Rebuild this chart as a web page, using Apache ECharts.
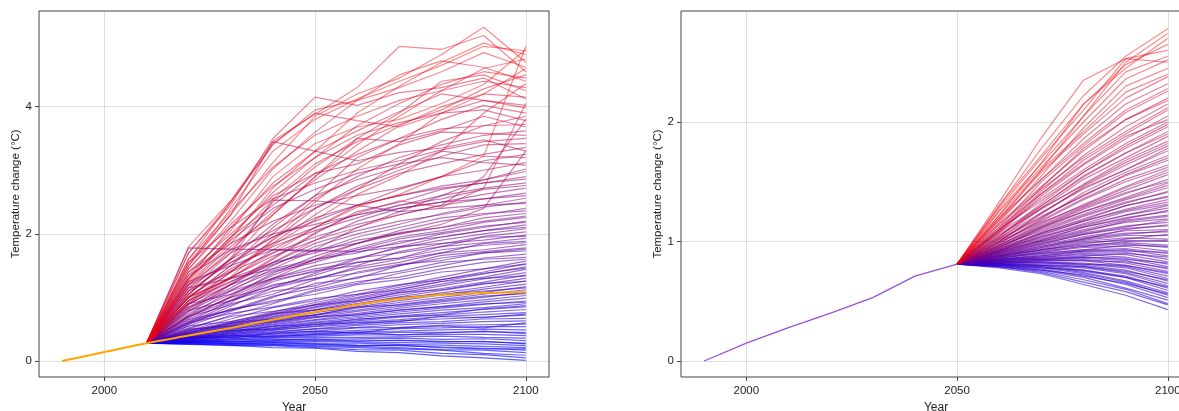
<!DOCTYPE html>
<html>
<head>
<meta charset="utf-8">
<script src="https://cdn.jsdelivr.net/npm/echarts@6/dist/echarts.min.js"></script>
<style>
  html, body { margin: 0; padding: 0; background: #fff; }
  #main { width: 1179px; height: 411px; }
</style>
</head>
<body>
<div id="main"></div>
<script>
// temperature ensemble runs, two panels
var chart = echarts.init(document.getElementById("main"));

var xTicks = [2000, 2050, 2100];
var leftYTicks = [0, 2, 4];
var rightYTicks = [0, 1, 2];

// left panel: median path (orange) and runs starting 2010
var orangeYears = [1990, 2000, 2010, 2020, 2030, 2040, 2050, 2060, 2070, 2080, 2090, 2100];
var orangeTemps = [0, 0.14, 0.28, 0.40, 0.52, 0.65, 0.77, 0.89, 0.98, 1.04, 1.07, 1.085];

var leftYears = [2010, 2020, 2030, 2040, 2050, 2060, 2070, 2080, 2090, 2100];
var leftStart = 0.28;
var leftRuns = [
    [0.26, 0.25, 0.21, 0.20, 0.15, 0.13, 0.08, 0.05, 0.01],
    [0.27, 0.24, 0.24, 0.21, 0.18, 0.17, 0.12, 0.10, 0.05],
    [0.28, 0.26, 0.25, 0.23, 0.21, 0.19, 0.17, 0.12, 0.09],
    [0.27, 0.27, 0.26, 0.24, 0.23, 0.21, 0.18, 0.17, 0.13],
    [0.29, 0.28, 0.27, 0.27, 0.25, 0.24, 0.22, 0.20, 0.17],
    [0.30, 0.27, 0.29, 0.26, 0.24, 0.25, 0.21, 0.19, 0.19],
    [0.30, 0.29, 0.30, 0.28, 0.28, 0.26, 0.25, 0.23, 0.21],
    [0.29, 0.31, 0.30, 0.31, 0.30, 0.29, 0.28, 0.27, 0.24],
    [0.33, 0.30, 0.32, 0.35, 0.31, 0.33, 0.30, 0.31, 0.27],
    [0.31, 0.31, 0.33, 0.32, 0.33, 0.32, 0.31, 0.30, 0.28],
    [0.30, 0.33, 0.34, 0.34, 0.35, 0.36, 0.34, 0.35, 0.32],
    [0.32, 0.33, 0.36, 0.37, 0.37, 0.38, 0.39, 0.37, 0.36],
    [0.31, 0.35, 0.37, 0.39, 0.41, 0.41, 0.42, 0.42, 0.40],
    [0.35, 0.40, 0.38, 0.42, 0.45, 0.41, 0.44, 0.47, 0.43],
    [0.33, 0.34, 0.39, 0.41, 0.43, 0.45, 0.45, 0.46, 0.45],
    [0.32, 0.37, 0.40, 0.43, 0.46, 0.47, 0.49, 0.50, 0.49],
    [0.34, 0.37, 0.42, 0.45, 0.48, 0.51, 0.52, 0.54, 0.54],
    [0.33, 0.39, 0.43, 0.47, 0.52, 0.53, 0.56, 0.57, 0.58],
    [0.38, 0.36, 0.44, 0.47, 0.44, 0.52, 0.55, 0.52, 0.60],
    [0.35, 0.39, 0.45, 0.50, 0.53, 0.57, 0.59, 0.62, 0.63],
    [0.34, 0.41, 0.46, 0.51, 0.56, 0.60, 0.62, 0.66, 0.67],
    [0.36, 0.41, 0.48, 0.54, 0.58, 0.63, 0.66, 0.69, 0.72],
    [0.42, 0.48, 0.50, 0.58, 0.60, 0.62, 0.70, 0.68, 0.74],
    [0.35, 0.43, 0.49, 0.55, 0.61, 0.65, 0.70, 0.73, 0.76],
    [0.37, 0.43, 0.51, 0.57, 0.63, 0.69, 0.72, 0.77, 0.81],
    [0.36, 0.45, 0.52, 0.60, 0.65, 0.71, 0.76, 0.81, 0.85],
    [0.36, 0.44, 0.55, 0.57, 0.66, 0.70, 0.73, 0.82, 0.87],
    [0.38, 0.46, 0.54, 0.61, 0.68, 0.74, 0.80, 0.84, 0.90],
    [0.50, 0.55, 0.62, 0.70, 0.72, 0.80, 0.85, 0.90, 0.92],
    [0.37, 0.47, 0.55, 0.64, 0.70, 0.77, 0.83, 0.89, 0.94],
    [0.40, 0.47, 0.57, 0.65, 0.73, 0.80, 0.86, 0.93, 0.99],
    [0.38, 0.50, 0.58, 0.68, 0.75, 0.83, 0.90, 0.96, 1.03],
    [0.45, 0.60, 0.66, 0.72, 0.85, 0.88, 0.95, 1.02, 1.06],
    [0.41, 0.49, 0.60, 0.69, 0.78, 0.86, 0.93, 1.00, 1.08],
    [0.39, 0.52, 0.61, 0.72, 0.80, 0.89, 0.97, 1.05, 1.12],
    [0.55, 0.62, 0.75, 0.80, 0.90, 1.00, 1.05, 1.10, 1.15],
    [0.42, 0.51, 0.63, 0.73, 0.83, 0.92, 1.00, 1.08, 1.17],
    [0.40, 0.54, 0.64, 0.76, 0.85, 0.95, 1.04, 1.13, 1.21],
    [0.52, 0.70, 0.78, 0.88, 0.95, 1.08, 1.12, 1.22, 1.25],
    [0.43, 0.53, 0.66, 0.77, 0.88, 0.98, 1.07, 1.16, 1.26],
    [0.41, 0.56, 0.67, 0.80, 0.90, 1.01, 1.11, 1.21, 1.30],
    [0.60, 0.75, 0.85, 0.98, 1.05, 1.12, 1.25, 1.30, 1.34],
    [0.45, 0.55, 0.69, 0.81, 0.93, 1.04, 1.14, 1.24, 1.35],
    [0.43, 0.58, 0.70, 0.84, 0.95, 1.07, 1.18, 1.29, 1.39],
    [0.46, 0.57, 0.72, 0.85, 0.98, 1.10, 1.21, 1.32, 1.44],
    [0.48, 0.66, 0.84, 0.95, 1.10, 1.20, 1.28, 1.38, 1.46],
    [0.44, 0.60, 0.73, 0.88, 1.00, 1.13, 1.25, 1.37, 1.48],
    [0.65, 0.80, 0.95, 1.05, 1.20, 1.28, 1.40, 1.45, 1.52],
    [0.48, 0.59, 0.75, 0.89, 1.03, 1.16, 1.28, 1.40, 1.53],
    [0.47, 0.62, 0.77, 0.92, 1.05, 1.19, 1.32, 1.45, 1.57],
    [0.58, 0.82, 0.92, 1.12, 1.25, 1.32, 1.45, 1.55, 1.60],
    [0.62, 0.80, 1.02, 1.15, 1.32, 1.41, 1.55, 1.60, 1.63],
    [0.50, 0.72, 0.90, 1.10, 1.22, 1.38, 1.50, 1.62, 1.68],
    [0.70, 0.88, 1.10, 1.18, 1.40, 1.52, 1.58, 1.70, 1.73],
    [0.70, 0.95, 1.15, 1.30, 1.38, 1.50, 1.62, 1.70, 1.76],
    [0.55, 0.78, 1.00, 1.22, 1.30, 1.50, 1.66, 1.72, 1.78],
    [0.80, 0.95, 1.20, 1.30, 1.45, 1.55, 1.70, 1.75, 1.83],
    [0.90, 1.05, 1.30, 1.45, 1.55, 1.62, 1.75, 1.82, 1.86],
    [0.60, 0.90, 1.05, 1.28, 1.48, 1.60, 1.70, 1.85, 1.88],
    [0.72, 1.00, 1.18, 1.35, 1.55, 1.62, 1.80, 1.86, 1.93],
    [0.62, 0.95, 1.28, 1.40, 1.62, 1.70, 1.80, 1.95, 1.96],
    [1.78, 1.76, 1.75, 1.74, 1.72, 1.80, 1.85, 1.90, 1.98],
    [0.66, 0.92, 1.25, 1.42, 1.50, 1.72, 1.84, 1.96, 2.03],
    [0.85, 1.10, 1.30, 1.50, 1.62, 1.78, 1.90, 2.00, 2.08],
    [1.15, 1.30, 1.45, 1.60, 1.70, 1.88, 1.95, 2.05, 2.10],
    [0.58, 0.86, 1.15, 1.38, 1.60, 1.80, 1.95, 2.05, 2.14],
    [0.78, 1.12, 1.40, 1.55, 1.75, 1.92, 2.02, 2.12, 2.18],
    [0.90, 1.20, 1.42, 1.58, 1.75, 1.85, 2.00, 2.10, 2.20],
    [0.75, 1.05, 1.35, 1.60, 1.78, 1.95, 2.05, 2.18, 2.26],
    [0.95, 1.25, 1.52, 1.75, 1.85, 2.02, 2.10, 2.20, 2.28],
    [1.00, 1.30, 1.55, 1.70, 1.90, 2.00, 2.10, 2.25, 2.32],
    [1.25, 1.50, 1.75, 1.72, 1.95, 2.10, 2.25, 2.32, 2.36],
    [0.68, 1.02, 1.38, 1.65, 1.85, 2.05, 2.20, 2.30, 2.40],
    [1.05, 1.62, 2.53, 2.52, 2.45, 2.35, 2.40, 2.45, 2.48],
    [0.85, 1.20, 1.55, 1.85, 2.05, 2.20, 2.30, 2.42, 2.50],
    [0.82, 1.15, 1.50, 1.80, 2.00, 2.15, 2.32, 2.45, 2.56],
    [1.35, 1.75, 2.00, 2.15, 2.30, 2.40, 2.50, 2.55, 2.60],
    [1.10, 1.40, 1.70, 1.95, 2.15, 2.30, 2.45, 2.55, 2.64],
    [0.95, 1.32, 1.65, 1.90, 2.20, 2.40, 2.50, 2.62, 2.72],
    [1.00, 1.45, 1.80, 2.05, 2.25, 2.45, 2.55, 2.70, 2.76],
    [1.20, 1.55, 1.85, 2.10, 2.30, 2.45, 2.60, 2.72, 2.80],
    [1.10, 1.55, 1.95, 2.20, 2.45, 2.60, 2.72, 2.80, 2.86],
    [0.78, 1.20, 1.60, 2.00, 2.35, 2.50, 2.70, 2.80, 2.90],
    [1.15, 1.60, 1.95, 2.25, 2.45, 2.60, 2.75, 2.85, 2.98],
    [0.72, 1.10, 1.45, 1.75, 2.10, 2.35, 2.60, 2.85, 3.02],
    [1.30, 1.90, 2.40, 2.70, 2.95, 3.10, 3.20, 3.12, 3.08],
    [1.40, 1.85, 2.20, 2.45, 2.60, 2.72, 2.90, 3.00, 3.12],
    [1.05, 1.60, 2.15, 2.60, 2.85, 3.05, 3.30, 3.22, 3.20],
    [0.88, 1.30, 1.75, 2.10, 2.45, 2.70, 2.90, 3.15, 3.25],
    [1.50, 2.30, 3.45, 3.30, 3.15, 3.28, 3.35, 3.48, 3.30],
    [0.70, 1.00, 1.30, 1.60, 1.85, 2.00, 2.15, 2.40, 3.30],
    [1.20, 1.70, 2.05, 2.40, 2.70, 2.95, 3.10, 3.25, 3.36],
    [0.90, 1.40, 1.90, 2.40, 2.75, 3.00, 3.22, 3.40, 3.42],
    [1.55, 2.10, 2.55, 2.80, 3.00, 3.15, 3.32, 3.45, 3.50],
    [1.40, 2.00, 2.60, 2.95, 3.10, 3.40, 3.60, 3.58, 3.55],
    [1.00, 1.50, 2.00, 2.55, 2.90, 3.20, 3.40, 3.55, 3.62],
    [1.20, 1.80, 2.30, 2.90, 3.50, 3.45, 3.62, 3.85, 3.68],
    [1.30, 1.95, 2.45, 2.95, 3.25, 3.50, 3.65, 3.70, 3.72],
    [1.60, 2.50, 3.42, 3.90, 3.78, 3.68, 3.90, 3.95, 3.78],
    [0.90, 1.25, 1.55, 1.90, 2.10, 2.30, 2.45, 2.90, 3.80],
    [0.95, 1.40, 1.85, 2.30, 2.70, 3.10, 3.45, 3.70, 3.85],
    [1.00, 1.50, 2.10, 2.60, 3.20, 3.50, 3.80, 4.02, 3.90],
    [1.45, 2.15, 2.75, 3.20, 3.55, 3.75, 3.90, 4.10, 3.98],
    [1.30, 2.10, 2.80, 3.30, 3.62, 3.92, 4.20, 4.10, 4.02],
    [0.82, 1.22, 1.62, 2.02, 2.32, 2.52, 2.42, 2.72, 4.05],
    [1.70, 2.45, 3.50, 4.15, 4.02, 4.22, 4.30, 4.45, 4.12],
    [1.15, 1.75, 2.35, 2.85, 3.30, 3.70, 4.00, 4.20, 4.15],
    [1.10, 1.70, 2.50, 3.05, 3.50, 3.90, 4.40, 4.50, 4.25],
    [1.60, 2.35, 3.05, 3.55, 3.85, 4.10, 4.25, 4.40, 4.30],
    [1.02, 1.42, 1.82, 2.22, 2.62, 2.92, 3.30, 3.90, 4.36],
    [1.45, 2.20, 3.02, 3.60, 4.10, 4.50, 4.72, 4.62, 4.40],
    [1.28, 1.95, 2.65, 3.20, 3.70, 4.05, 4.35, 4.55, 4.45],
    [1.22, 1.85, 2.55, 3.10, 3.45, 3.72, 3.95, 4.28, 4.50],
    [1.80, 2.52, 3.46, 3.88, 4.30, 4.95, 4.90, 5.12, 4.55],
    [0.92, 1.32, 1.92, 2.50, 3.02, 3.42, 3.90, 4.20, 4.60],
    [1.70, 2.50, 3.40, 3.95, 4.10, 4.30, 4.55, 4.85, 4.62],
    [1.55, 2.30, 3.12, 3.85, 4.20, 4.45, 4.82, 5.25, 4.70],
    [1.05, 1.60, 2.30, 2.90, 3.40, 3.85, 4.25, 4.60, 4.75],
    [1.25, 1.92, 2.72, 3.30, 3.90, 4.32, 4.70, 5.00, 4.82],
    [1.50, 2.40, 3.30, 3.80, 4.12, 4.40, 4.65, 4.95, 4.88],
    [1.35, 2.05, 2.90, 3.42, 3.68, 3.80, 4.05, 4.35, 4.90],
    [1.00, 1.30, 1.70, 2.10, 2.42, 2.62, 2.90, 3.22, 4.95]
];

// right panel: one history to 2050, runs after
var rightHistYears = [1990, 2000, 2010, 2020, 2030, 2040, 2050];
var rightHistTemps = [0, 0.15, 0.28, 0.40, 0.53, 0.71, 0.81];

var rightYears = [2050, 2060, 2070, 2080, 2090, 2100];
var rightStart = 0.81;
var rightRuns = [
    [0.78, 0.73, 0.64, 0.55, 0.43],
    [0.79, 0.74, 0.66, 0.58, 0.47],
    [0.79, 0.75, 0.68, 0.60, 0.48],
    [0.79, 0.76, 0.70, 0.61, 0.51],
    [0.80, 0.76, 0.72, 0.64, 0.53],
    [0.80, 0.78, 0.73, 0.66, 0.55],
    [0.80, 0.77, 0.71, 0.65, 0.56],
    [0.80, 0.79, 0.74, 0.67, 0.57],
    [0.81, 0.78, 0.76, 0.70, 0.59],
    [0.81, 0.80, 0.76, 0.71, 0.61],
    [0.81, 0.79, 0.75, 0.70, 0.62],
    [0.81, 0.80, 0.78, 0.73, 0.63],
    [0.82, 0.81, 0.79, 0.74, 0.65],
    [0.82, 0.82, 0.80, 0.76, 0.67],
    [0.82, 0.80, 0.79, 0.75, 0.68],
    [0.82, 0.83, 0.81, 0.78, 0.69],
    [0.83, 0.83, 0.82, 0.79, 0.71],
    [0.83, 0.84, 0.84, 0.80, 0.73],
    [0.83, 0.82, 0.81, 0.80, 0.74],
    [0.83, 0.85, 0.85, 0.82, 0.75],
    [0.84, 0.85, 0.86, 0.84, 0.77],
    [0.82, 0.84, 0.84, 0.83, 0.78],
    [0.84, 0.86, 0.87, 0.86, 0.79],
    [0.84, 0.87, 0.89, 0.87, 0.81],
    [0.84, 0.85, 0.87, 0.85, 0.82],
    [0.85, 0.87, 0.90, 0.89, 0.83],
    [0.85, 0.88, 0.91, 0.91, 0.85],
    [0.85, 0.86, 0.88, 0.90, 0.87],
    [0.85, 0.89, 0.92, 0.93, 0.88],
    [0.86, 0.90, 0.93, 0.94, 0.90],
    [0.85, 0.88, 0.92, 0.92, 0.91],
    [0.86, 0.91, 0.95, 0.96, 0.92],
    [0.86, 0.92, 0.96, 0.98, 0.95],
    [0.86, 0.90, 0.93, 0.97, 0.96],
    [0.87, 0.93, 0.97, 0.99, 0.97],
    [0.87, 0.93, 0.99, 1.01, 1.00],
    [0.87, 0.91, 0.96, 1.00, 1.01],
    [0.88, 0.94, 1.00, 1.03, 1.02],
    [0.88, 0.95, 1.01, 1.05, 1.05],
    [0.88, 0.93, 0.98, 1.02, 1.06],
    [0.88, 0.96, 1.03, 1.07, 1.08],
    [0.87, 0.95, 1.02, 1.06, 1.09],
    [0.89, 0.97, 1.04, 1.09, 1.10],
    [0.89, 0.98, 1.06, 1.11, 1.13],
    [0.89, 0.96, 1.02, 1.10, 1.14],
    [0.90, 0.99, 1.07, 1.13, 1.16],
    [0.90, 0.98, 1.06, 1.12, 1.18],
    [0.90, 1.00, 1.09, 1.16, 1.19],
    [0.91, 1.00, 1.08, 1.17, 1.21],
    [0.91, 1.01, 1.10, 1.18, 1.22],
    [0.91, 1.02, 1.12, 1.20, 1.25],
    [0.92, 1.01, 1.12, 1.19, 1.26],
    [0.92, 1.03, 1.14, 1.22, 1.28],
    [0.93, 1.04, 1.13, 1.22, 1.30],
    [0.92, 1.04, 1.15, 1.25, 1.31],
    [0.92, 1.05, 1.17, 1.26, 1.33],
    [0.93, 1.06, 1.17, 1.27, 1.35],
    [0.94, 1.07, 1.18, 1.30, 1.37],
    [0.93, 1.07, 1.19, 1.30, 1.38],
    [0.96, 1.09, 1.22, 1.33, 1.41],
    [0.94, 1.08, 1.21, 1.32, 1.42],
    [0.95, 1.10, 1.23, 1.35, 1.45],
    [0.95, 1.12, 1.25, 1.36, 1.47],
    [0.95, 1.11, 1.25, 1.37, 1.49],
    [0.97, 1.13, 1.28, 1.41, 1.50],
    [0.96, 1.12, 1.27, 1.40, 1.52],
    [0.97, 1.14, 1.29, 1.43, 1.56],
    [0.99, 1.16, 1.30, 1.45, 1.58],
    [0.97, 1.15, 1.31, 1.46, 1.60],
    [1.00, 1.17, 1.35, 1.50, 1.62],
    [0.99, 1.18, 1.36, 1.52, 1.64],
    [1.01, 1.20, 1.39, 1.55, 1.68],
    [1.02, 1.21, 1.38, 1.56, 1.70],
    [0.98, 1.19, 1.41, 1.58, 1.72],
    [1.03, 1.24, 1.44, 1.60, 1.76],
    [1.00, 1.24, 1.45, 1.60, 1.78],
    [1.00, 1.23, 1.46, 1.64, 1.80],
    [1.06, 1.28, 1.47, 1.66, 1.82],
    [1.05, 1.27, 1.48, 1.68, 1.84],
    [1.02, 1.28, 1.52, 1.70, 1.88],
    [1.04, 1.30, 1.55, 1.74, 1.90],
    [1.08, 1.30, 1.54, 1.74, 1.92],
    [1.04, 1.32, 1.58, 1.78, 1.96],
    [1.10, 1.34, 1.58, 1.80, 1.98],
    [1.10, 1.36, 1.60, 1.82, 2.00],
    [1.08, 1.40, 1.65, 1.88, 2.02],
    [1.07, 1.38, 1.64, 1.86, 2.05],
    [1.12, 1.40, 1.68, 1.90, 2.10],
    [1.14, 1.44, 1.70, 1.92, 2.12],
    [1.09, 1.42, 1.72, 1.96, 2.15],
    [1.10, 1.45, 1.78, 2.02, 2.18],
    [1.15, 1.46, 1.76, 2.02, 2.20],
    [1.12, 1.50, 1.80, 2.08, 2.26],
    [1.20, 1.52, 1.82, 2.10, 2.28],
    [1.18, 1.52, 1.86, 2.15, 2.32],
    [1.20, 1.58, 1.90, 2.20, 2.38],
    [1.22, 1.60, 1.92, 2.25, 2.40],
    [1.16, 1.55, 1.95, 2.30, 2.45],
    [1.33, 1.87, 2.35, 2.53, 2.50],
    [1.25, 1.62, 2.00, 2.36, 2.52],
    [1.26, 1.65, 2.05, 2.42, 2.55],
    [1.28, 1.70, 2.10, 2.53, 2.60],
    [1.30, 1.72, 2.15, 2.48, 2.65],
    [1.22, 1.66, 2.15, 2.45, 2.70],
    [1.18, 1.60, 2.05, 2.50, 2.74],
    [1.30, 1.78, 2.22, 2.55, 2.78]
];

var fontFamily = '"Liberation Sans", Arial, sans-serif';

// blue -> red by the value a run ends at; red runs a little lighter
function runColor(v, vmax) {
    var t = Math.max(0, Math.min(1, v / vmax));
    var a = (0.62 - 0.17 * t).toFixed(2);
    return 'rgba(' + Math.round(255 * t) + ',0,' + Math.round(255 * (1 - t)) + ',' + a + ')';
}

function runSeries(years, start, runs, idx) {
    var vmax = 0;
    runs.forEach(function (r) { vmax = Math.max(vmax, r[r.length - 1]); });
    // draw low runs first so the red ones end up on top
    var ordered = runs.slice().sort(function (a, b) { return a[a.length - 1] - b[b.length - 1]; });
    return ordered.map(function (r) {
        var pts = [[years[0], start]];
        r.forEach(function (v, i) { pts.push([years[i + 1], v]); });
        return {
            type: 'line',
            xAxisIndex: idx,
            yAxisIndex: idx,
            data: pts,
            symbol: 'none',
            silent: true,
            z: 3,
            lineStyle: { width: 1.2, color: runColor(r[r.length - 1], vmax) }
        };
    });
}

// grid lines drawn as mark lines so they sit on the tick values
function gridLines(idx, yTicks) {
    var lines = xTicks.map(function (x) { return { xAxis: x }; })
        .concat(yTicks.map(function (y) { return { yAxis: y }; }));
    return {
        type: 'line',
        xAxisIndex: idx,
        yAxisIndex: idx,
        data: [[xTicks[0], yTicks[0]]],
        symbol: 'none',
        lineStyle: { opacity: 0 },
        silent: true,
        z: 1,
        markLine: {
            silent: true,
            symbol: 'none',
            animation: false,
            label: { show: false },
            lineStyle: { color: 'rgba(0,0,0,0.12)', type: 'solid', width: 1 },
            data: lines
        }
    };
}

function makeX(idx) {
    return {
        gridIndex: idx,
        type: 'value',
        min: 1984.5,
        max: 2105.5,
        name: 'Year',
        nameLocation: 'middle',
        nameGap: 22,
        nameTextStyle: { color: '#222', fontSize: 12, fontFamily: fontFamily },
        axisLine: { show: false, onZero: false },
        axisTick: { show: true, customValues: xTicks, length: 4, lineStyle: { color: '#444' } },
        axisLabel: {
            customValues: xTicks,
            margin: 8,
            color: '#222',
            fontSize: 11.5,
            fontFamily: fontFamily,
            formatter: function (v) { return String(v); }
        },
        splitLine: { show: false }
    };
}

function makeY(idx, min, max, ticks) {
    return {
        gridIndex: idx,
        type: 'value',
        min: min,
        max: max,
        name: 'Temperature change (°C)',
        nameLocation: 'middle',
        nameGap: 16,
        nameTextStyle: { color: '#222', fontSize: 11.5, fontFamily: fontFamily },
        axisLine: { show: false, onZero: false },
        axisTick: { show: true, customValues: ticks, length: 4, lineStyle: { color: '#444' } },
        axisLabel: {
            customValues: ticks,
            margin: 7,
            color: '#222',
            fontSize: 11.5,
            fontFamily: fontFamily,
            formatter: function (v) { return String(v); }
        },
        splitLine: { show: false }
    };
}

var series = [gridLines(0, leftYTicks), gridLines(1, rightYTicks)];
series = series.concat(runSeries(leftYears, leftStart, leftRuns, 0));
series = series.concat(runSeries(rightYears, rightStart, rightRuns, 1));
series.push({
    type: 'line',
    xAxisIndex: 0,
    yAxisIndex: 0,
    data: orangeYears.map(function (y, i) { return [y, orangeTemps[i]]; }),
    symbol: 'none',
    smooth: 0.3,
    silent: true,
    z: 5,
    lineStyle: { width: 2, color: '#ffa500' }
});
series.push({
    type: 'line',
    xAxisIndex: 1,
    yAxisIndex: 1,
    data: rightHistYears.map(function (y, i) { return [y, rightHistTemps[i]]; }),
    symbol: 'none',
    silent: true,
    z: 5,
    lineStyle: { width: 1.3, color: '#9b50d4' }
});

var option = {
    backgroundColor: '#fff',
    animation: false,
    grid: [
        { left: 39, top: 11, width: 510, height: 366, show: true, borderColor: '#444', borderWidth: 1, backgroundColor: 'transparent', containLabel: false, outerBoundsMode: 'none' },
        { left: 681, top: 11, width: 510, height: 366, show: true, borderColor: '#444', borderWidth: 1, backgroundColor: 'transparent', containLabel: false, outerBoundsMode: 'none' }
    ],
    xAxis: [makeX(0), makeX(1)],
    yAxis: [makeY(0, -0.252, 5.505, leftYTicks), makeY(1, -0.134, 2.929, rightYTicks)],
    series: series
};

chart.setOption(option);
window.addEventListener("resize", function () {
    chart.resize();
});
</script>
</body>
</html>
